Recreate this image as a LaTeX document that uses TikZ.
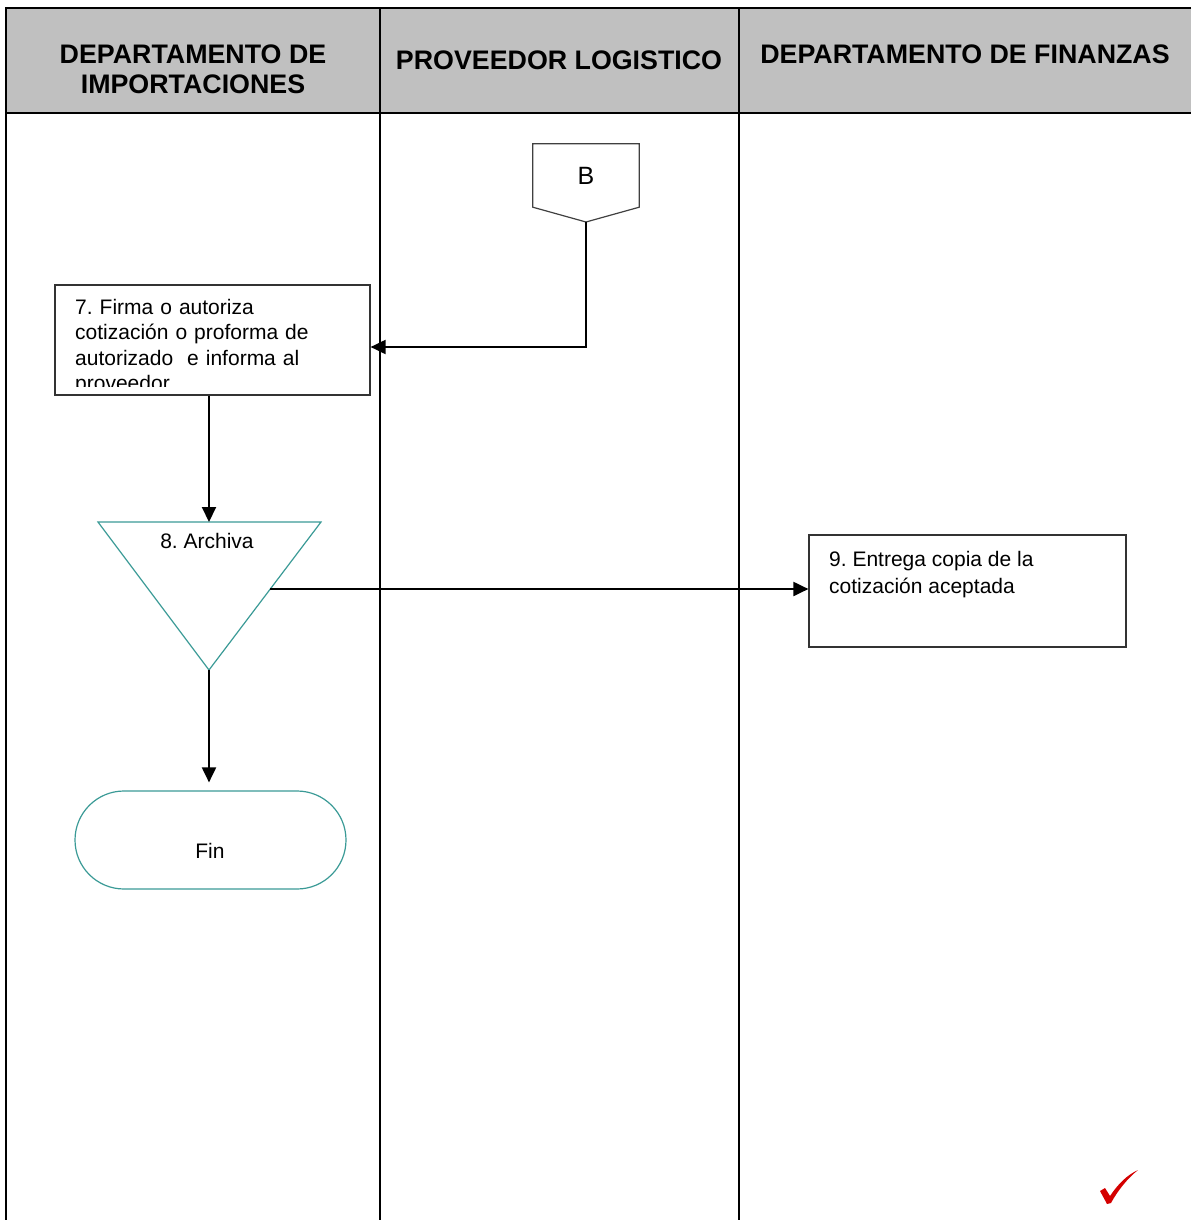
\documentclass[tikz,border=0pt]{standalone}
\usepackage{fontspec}
\setmainfont{Liberation Sans}
\usepackage{xcolor}
\usetikzlibrary{positioning,shapes,arrows.meta,calc}
\frenchspacing

\definecolor{laneGray}{HTML}{C0C0C0}
\definecolor{symTeal}{HTML}{3A9A96}
\definecolor{tickRed}{HTML}{D40000}

\begin{document}
\begin{tikzpicture}[x=1pt,y=-1pt]
\tikzstyle{every node}+=[inner sep=0pt]
\tikzstyle{lane}=[black, line width=2pt]
\tikzstyle{head}=[font=\fontsize{26.8}{30}\selectfont\bfseries, align=center]
\tikzstyle{txt}=[font=\fontsize{21}{25.5}\selectfont, align=left]
\tikzstyle{process}=[draw=black!80, line width=1.2pt, minimum width=315pt, minimum height=110pt]
\tikzstyle{flow}=[black, line width=2pt, -{Triangle[length=15pt,width=14pt]}]
\useasboundingbox (0,0) rectangle (1191,1220);

% swimlanes
\fill [laneGray] (6,8) rectangle (1191,113);
\draw [lane] (1191,8) -- (6,8) -- (6,1220);
\draw [lane] (6,113) -- (1191,113);
\draw [lane] (380,8) -- (380,1220);
\draw [lane] (739,8) -- (739,1220);
\node [head] (hImport) at (193,69.5) {DEPARTAMENTO DE\\IMPORTACIONES};
\node [head] (hLogist) at (559,60) {PROVEEDOR LOGISTICO};
\node [head] (hFinanz) at (965,54) {DEPARTAMENTO DE FINANZAS};

% off-page connector
\node [txt, font=\fontsize{25}{28}\selectfont, minimum width=106pt, minimum height=63pt] (connB) at (586,175.5) {B};
\coordinate (tipB) at (586,222);
\draw [black!75, line width=1.2pt] (connB.north west) -- (connB.north east) -- (connB.south east) -- (tipB) -- (connB.south west) -- cycle;

% step 7
\node [process] (box7) at (212.5,340) {};
\begin{scope}
\clip (box7.north west) rectangle ($(box7.south east)+(0,-9)$);
\node [txt, anchor=north west, text width=290pt] (txt7) at (75,299) {7. Firma o autoriza\\cotización o proforma de\\autorizado\ \ e informa al\\proveedor};
\end{scope}

% step 8
\coordinate (arcTop) at (209,522);
\coordinate (arcApex) at (209,670);
\coordinate (arcOut) at (270,589);
\draw [symTeal, line width=1.2pt] (98,522) -- (321,522) -- (arcApex) -- cycle;
\node [txt] (arcLbl) at (207,541) {8. Archiva};

% step 9
\node [process, minimum width=317pt, minimum height=112pt] (box9) at (967.5,591) {};
\node [txt, font=\fontsize{21}{27}\selectfont, anchor=north west] (txt9) at (829,551) {9. Entrega copia de la\\cotización aceptada};

% end
\node [rounded rectangle, draw=symTeal, line width=1.2pt, minimum width=271pt, minimum height=98pt] (fin) at (210.5,840) {};
\node [txt] (finLbl) at (210,851) {Fin};

\coordinate (bendB) at (586,347);
\draw [flow] (tipB) -- (bendB) -- (bendB -| box7.east);
\draw [flow] (arcTop |- box7.south) -- (arcTop);
\draw [flow] (arcOut) -- (arcOut -| box9.west);
\draw [flow, shorten >=8pt] (arcApex) -- (arcApex |- fin.north);

\fill [tickRed] (1100,1191) -- (1105,1188) -- (1110,1196) .. controls (1118,1184) and (1127,1175) .. (1138,1170) .. controls (1128,1178) and (1118,1190) .. (1111,1203) -- (1107,1204) -- cycle;
\end{tikzpicture}
\end{document}
